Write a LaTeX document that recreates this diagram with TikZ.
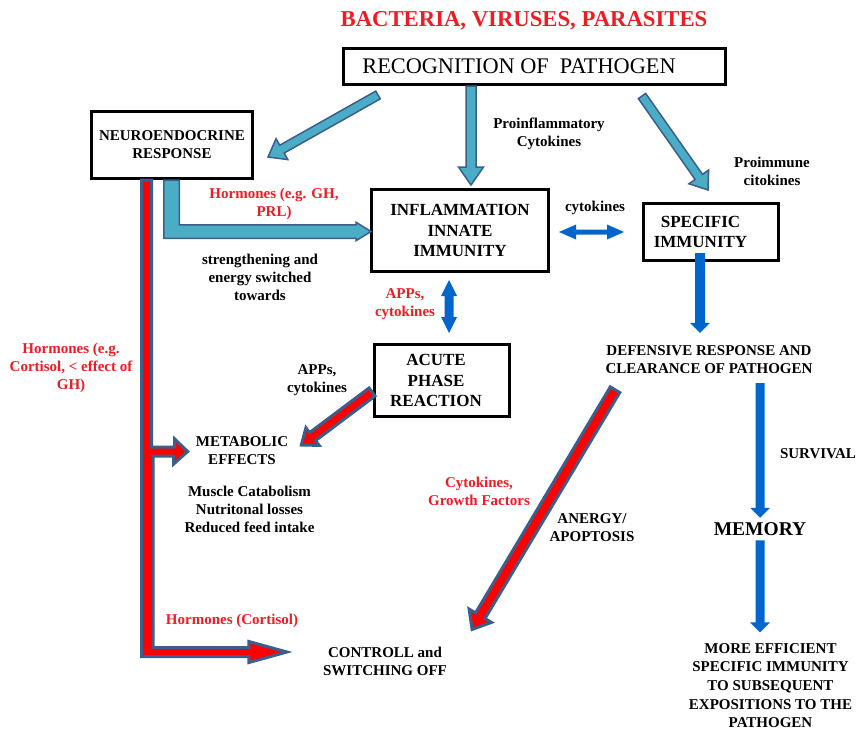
\documentclass[tikz,border=0pt]{standalone}
\usepackage{fontspec}
\setmainfont{Liberation Serif}
\usetikzlibrary{calc, positioning}
\definecolor{pathred}{HTML}{FF0000}
\definecolor{labelred}{HTML}{EE1C24}
\definecolor{cyanfill}{HTML}{4BACC6}
\definecolor{edgeblue}{HTML}{3B5E8C}
\definecolor{flowblue}{HTML}{0066CC}

\newcommand{\blockarrow}[6][]{%
  \path #2 coordinate (ba-a) #3 coordinate (ba-b);
  \coordinate (ba-h) at ($(ba-b)!#6!(ba-a)$);
  \draw[#1] ($(ba-a)!#4!90:(ba-b)$) -- ($(ba-h)!#4!90:(ba-b)$) -- ($(ba-h)!#5!90:(ba-b)$) -- (ba-b)
    -- ($(ba-h)!#5!-90:(ba-b)$) -- ($(ba-h)!#4!-90:(ba-b)$) -- ($(ba-a)!#4!-90:(ba-b)$) -- cycle;
}
\newcommand{\dblarrow}[6][]{%
  \path #2 coordinate (da-a) #3 coordinate (da-b);
  \coordinate (da-h) at ($(da-b)!#6!(da-a)$);
  \coordinate (da-g) at ($(da-a)!#6!(da-b)$);
  \draw[#1] (da-a) -- ($(da-g)!#5!90:(da-b)$) -- ($(da-g)!#4!90:(da-b)$) -- ($(da-h)!#4!90:(da-b)$)
    -- ($(da-h)!#5!90:(da-b)$) -- (da-b) -- ($(da-h)!#5!-90:(da-b)$) -- ($(da-h)!#4!-90:(da-b)$)
    -- ($(da-g)!#4!-90:(da-b)$) -- ($(da-g)!#5!-90:(da-b)$) -- cycle;
}

\begin{document}
\begin{tikzpicture}[x=1pt, y=1pt,
    box/.style={draw, line width=3pt, inner sep=2pt, align=center, font=\fontsize{17}{20.5}\selectfont\bfseries},
    lbl/.style={inner sep=2pt, align=center, font=\fontsize{15}{18}\selectfont\bfseries},
    redlbl/.style={lbl, text=labelred},
    tealarrow/.style={fill=cyanfill, draw=edgeblue, line width=1.5pt},
    redarrow/.style={fill=pathred, draw=edgeblue, line width=3pt},
    bluearrow/.style={fill=flowblue, draw=none}
  ]
  \useasboundingbox (0,0) rectangle (859,-731);

  \node[lbl, font=\fontsize{22.7}{27}\selectfont\bfseries, text=labelred] (title) at (524,-21) {BACTERIA, VIRUSES, PARASITES};
  \node[box, font=\fontsize{22.3}{26}\selectfont, minimum width=382, minimum height=36] (recog) at (534.5,-66.5) {\hspace*{-31pt}RECOGNITION OF~~PATHOGEN};
  \node[box, font=\fontsize{15}{18}\selectfont\bfseries, minimum width=161, minimum height=67] (neuro) at (172,-145) {NEUROENDOCRINE\\RESPONSE};
  \node[box, minimum width=177, minimum height=82] (inflam) at (460,-230.5) {INFLAMMATION\\INNATE\\IMMUNITY};
  \node[box, minimum width=135, minimum height=57] (spec) at (711,-232) {\hspace*{-21pt}SPECIFIC\\\hspace*{-21pt}IMMUNITY};
  \node[box, minimum width=135, minimum height=72] (acute) at (442,-380.5) {\hspace*{-12pt}ACUTE\\\hspace*{-12pt}PHASE\\\hspace*{-12pt}REACTION};

  \node[lbl] (proinfl) at (549,-134) {Proinflammatory\\Cytokines};
  \node[lbl] (proimm) at (772,-171.5) {Proimmune\\citokines};
  \node[redlbl] (hormgh) at (274,-204) {Hormones (e.g. GH,\\PRL)};
  \node[lbl] (energy) at (260,-277) {strengthening and\\energy switched\\towards};
  \node[lbl] (cytok) at (595,-208) {cytokines};
  \node[redlbl] (appsin) at (405,-304.5) {APPs,\\cytokines};
  \node[lbl] (appsmet) at (317,-380) {APPs,\\cytokines};
  \node[redlbl] (hormcort) at (71,-368) {Hormones (e.g.\\Cortisol, < effect of\\GH)};
  \node[lbl] (metab) at (242,-451) {METABOLIC\\EFFECTS};
  \node[lbl, below=17pt of metab, xshift=7.5pt] (losses) {Muscle Catabolism\\Nutritonal losses\\Reduced feed intake};
  \node[lbl] (defens) at (709,-359.5) {DEFENSIVE RESPONSE AND\\CLEARANCE OF PATHOGEN};
  \node[lbl] (survival) at (818,-454) {SURVIVAL};
  \node[lbl, font=\fontsize{19.5}{23}\selectfont\bfseries] (memory) at (760,-529) {MEMORY};
  \node[redlbl] (growth) at (479,-491) {Cytokines,\\Growth Factors};
  \node[lbl] (anergy) at (592,-527.5) {ANERGY/\\APOPTOSIS};
  \node[redlbl] (hormsoff) at (232,-621) {Hormones (Cortisol)};
  \node[lbl] (ctrl) at (385,-661) {CONTROLL and\\SWITCHING OFF};
  \node[lbl, font=\fontsize{15}{18.7}\selectfont\bfseries] (more) at (770.5,-685.5) {MORE EFFICIENT\\SPECIFIC IMMUNITY\\TO SUBSEQUENT\\EXPOSITIONS TO THE\\PATHOGEN};

  \blockarrow[tealarrow]{($(recog.south west)+(36,-9)$)}{($(neuro.east)+(14,-12)$)}{4.5pt}{12pt}{16pt}
  \blockarrow[tealarrow]{($(recog.south west)+(129,0)$)}{($(inflam.north)+(11,3)$)}{5pt}{12.5pt}{18pt}
  \blockarrow[tealarrow]{($(recog.south west)+(300,-10)$)}{($(spec.north)+(-3,12)$)}{4.5pt}{12pt}{16pt}

  \coordinate (intip) at ($(inflam.west)+(1,-1)$);
  \draw[tealarrow] ($(neuro.south)+(-8.25,0)$) |- ($(intip)+(-15,-6.75)$) -- ++(0,-2.5) -- (intip)
    -- ++(-15,9.25) -- ++(0,-2.5) -| ($(neuro.south)+(7.25,0)$) -- cycle;

  \coordinate (ctrltip) at ($(ctrl.west)+(-34,9)$);
  \coordinate (metabtip) at ($(metab.west)+(-6,-0.5)$);
  \draw[redarrow] ($(neuro.south)+(-30.5,0)$) |- ($(ctrltip)+(-38,-4.5)$) -- ++(0,-6) -- (ctrltip)
    -- ++(-38,10.5) -- ++(0,-6) -| ($(metabtip)+(-34.5,-4.5)$) -- ++(20.5,0) -- ++(0,-8) -- (metabtip)
    -- ++(-13,12.5) -- ++(0,-8) -| ($(neuro.south)+(-20.5,0)$) -- cycle;

  \blockarrow[redarrow]{($(acute.west)+(-1,-11.5)$)}{($(metab.east)+(11,6)$)}{5pt}{11pt}{14pt}
  \blockarrow[redarrow]{($(defens.south)+(-94,-14)$)}{($(ctrl.north east)+(23,15)$)}{5.5pt}{13pt}{16pt}

  \dblarrow[bluearrow]{($(inflam.east)+(9,-1.5)$)}{($(spec.west)+(-18,0)$)}{2.5pt}{7.5pt}{17pt}
  \dblarrow[bluearrow]{($(inflam.south)+(-11,-7)$)}{($(acute.north)+(7,10)$)}{4.5pt}{8pt}{16pt}
  \blockarrow[bluearrow]{($(spec.south)+(-11,9)$)}{($(defens.north)+(-9,10.5)$)}{5pt}{10pt}{10pt}
  \blockarrow[bluearrow]{($(defens.south)+(51,-7.5)$)}{($(memory.north)+(0,2.5)$)}{4.5pt}{10pt}{10pt}
  \blockarrow[bluearrow]{($(memory.south)+(0,-2.5)$)}{($(more.north)+(-10.5,8.5)$)}{4.5pt}{10pt}{10pt}
\end{tikzpicture}
\end{document}
